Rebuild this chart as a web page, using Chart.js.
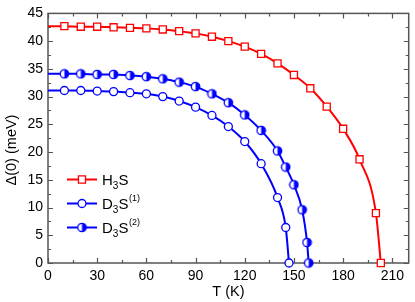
<!DOCTYPE html>
<html>
<head>
<meta charset="utf-8">
<script src="https://cdn.jsdelivr.net/npm/chart.js@4"></script>
<style>
html,body{margin:0;padding:0;background:#fff;}
#wrap{width:415px;height:302px;position:relative;}
</style>
</head>
<body>
<div id="wrap"><canvas id="c" width="415" height="302"></canvas></div>
<script>
// ---- data ----
const T_H3S = [0,10,20,30,40,50,60,70,80,90,100,110,120,130,140,150,160,170,180,190,200,203];
const GAP_H3S = [42.7,42.7,42.6,42.6,42.5,42.4,42.3,42.1,41.8,41.4,40.8,40.0,39.0,37.7,36.0,33.9,31.5,28.2,24.2,18.7,9.0,0];
const T_D3S_1 = [0,10,20,30,40,50,60,70,80,90,100,110,120,130,140,145,147];
const GAP_D3S_1 = [31.1,31.1,31.1,31.0,30.9,30.7,30.5,30.0,29.2,28.1,26.6,24.6,21.9,17.9,11.8,6.4,0];
const T_D3S_2 = [0,10,20,30,40,50,60,70,80,90,100,110,120,130,140,145,150,155,158,159];
const GAP_D3S_2 = [34.1,34.1,34.1,34.0,34.0,33.8,33.6,33.2,32.6,31.8,30.5,28.9,26.7,23.9,20.2,17.3,14.1,9.6,3.7,0];
const X_TICKS = [0,30,60,90,120,150,180,210];
const Y_TICKS = [0,5,10,15,20,25,30,35,40,45];
const SERIES_NAMES = [["H","3","S",""],["D","3","S","(1)"],["D","3","S","(2)"]];

const FONT = '"Liberation Sans", Arial, sans-serif';
const RED = '#ff0000', BLUE = '#0000ff';

function pts(xs, ys){ return xs.map((x,i)=>({x:x, y:ys[i]})); }

// half-filled circle marker (right half filled)
function halfCircle(color){
  const c = document.createElement('canvas');
  c.width = 11; c.height = 11;
  const g = c.getContext('2d');
  g.beginPath(); g.arc(5.5,5.5,4.2,0,Math.PI*2); g.fillStyle='#fff'; g.fill();
  g.beginPath(); g.moveTo(5.5,1.3); g.arc(5.5,5.5,4.2,-Math.PI/2,Math.PI/2); g.closePath();
  g.fillStyle=color; g.fill();
  g.beginPath(); g.arc(5.5,5.5,4.2,0,Math.PI*2); g.lineWidth=1.3; g.strokeStyle=color; g.stroke();
  return c;
}
const HALF = halfCircle(BLUE);

function radii(n, r){ return Array.from({length:n},(_,i)=> i===0 ? 0 : r); }

const frame = {
  id:'frame',
  beforeDatasetsDraw(chart){
    const {ctx, chartArea:a, scales:{x, y}} = chart;
    ctx.save();
    ctx.strokeStyle = '#555';
    ctx.lineWidth = 1.5;
    ctx.strokeRect(a.left, a.top, a.right-a.left, a.bottom-a.top);
    ctx.lineWidth = 1.2;
    ctx.beginPath();
    for (let v=0; v<=220; v+=15){
      const px = Math.round(x.getPixelForValue(v))+0.5;
      const L = (v%30===0)?5:3;
      ctx.moveTo(px,a.bottom); ctx.lineTo(px,a.bottom-L);
      ctx.moveTo(px,a.top); ctx.lineTo(px,a.top+L);
    }
    for (let v=0; v<=45; v+=2.5){
      const py = Math.round(y.getPixelForValue(v))+0.5;
      const L = (v%5===0)?5:3;
      ctx.moveTo(a.left,py); ctx.lineTo(a.left+L,py);
      ctx.moveTo(a.right,py); ctx.lineTo(a.right-L,py);
    }
    ctx.stroke();
    ctx.restore();
  },
  afterDraw(chart){
    const {ctx, chartArea:a} = chart;
    ctx.save();
    ctx.fillStyle = '#000';
    // axis titles
    ctx.font = '14.5px ' + FONT;
    ctx.textAlign = 'center'; ctx.textBaseline = 'middle';
    ctx.fillText('T (K)', (a.left+a.right)/2, 292);
    ctx.translate(12, 150); ctx.rotate(-Math.PI/2);
    ctx.fillText('\u0394(0) (meV)', 0, 0);
    ctx.restore();
    // legend
    chart.data.datasets.forEach((ds, i) => {
      const yy = 179.5 + 24*i;
      ctx.save();
      ctx.strokeStyle = ds.borderColor; ctx.lineWidth = 2;
      ctx.beginPath(); ctx.moveTo(67, yy); ctx.lineTo(97, yy); ctx.stroke();
      ctx.fillStyle = ds.pointBackgroundColor; ctx.strokeStyle = ds.borderColor;
      ctx.lineWidth = ds.pointBorderWidth;
      Chart.helpers.drawPoint(ctx, {pointStyle: ds.pointStyle, radius: ds.legendRadius, borderWidth: ds.pointBorderWidth, rotation:0}, 82, yy);
      const [a1, sub, b1, sup] = SERIES_NAMES[i];
      ctx.fillStyle = '#000'; ctx.textAlign = 'left'; ctx.textBaseline = 'alphabetic';
      let xx = 102;
      const base = yy + 5.5;
      ctx.font = '15px ' + FONT; ctx.fillText(a1, xx, base); xx += ctx.measureText(a1).width;
      ctx.font = '10px ' + FONT; ctx.fillText(sub, xx, base + 4); xx += ctx.measureText(sub).width;
      ctx.font = '15px ' + FONT; ctx.fillText(b1, xx, base); xx += ctx.measureText(b1).width + 0.5;
      if (sup){ ctx.font = '9px ' + FONT; ctx.fillText(sup, xx, base - 8); }
      ctx.restore();
    });
  }
};

new Chart(document.getElementById('c'), {
  type: 'line',
  data: {
    datasets: [
      { label:'H3S', data: pts(T_H3S, GAP_H3S), borderColor: RED, borderWidth: 2,
        pointStyle:'rect', pointRadius: radii(T_H3S.length, 5), legendRadius:5, pointBackgroundColor:'#fff',
        pointBorderColor: RED, pointBorderWidth: 1.3, cubicInterpolationMode:'monotone', clip:false },
      { label:'D3S(1)', data: pts(T_D3S_1, GAP_D3S_1), borderColor: BLUE, borderWidth: 2,
        pointStyle:'circle', pointRadius: radii(T_D3S_1.length, 4), legendRadius:4, pointBackgroundColor:'#fff',
        pointBorderColor: BLUE, pointBorderWidth: 1.3, cubicInterpolationMode:'monotone', clip:false },
      { label:'D3S(2)', data: pts(T_D3S_2, GAP_D3S_2), borderColor: BLUE, borderWidth: 2,
        pointStyle: HALF, pointRadius: radii(T_D3S_2.length, 4), legendRadius:4, pointBackgroundColor:'#fff',
        pointBorderColor: BLUE, pointBorderWidth: 1.3, cubicInterpolationMode:'monotone', clip:false }
    ]
  },
  options: {
    responsive: false,
    animation: false,
    events: [],
    layout: { padding: { top: 7, right: 3, left: 0, bottom: 0 } },
    plugins: { legend: { display:false }, tooltip: { enabled:false } },
    scales: {
      x: {
        type:'linear', min:0, max:220,
        grid:{ display:false, drawTicks:false }, border:{ display:false },
        afterBuildTicks(s){ s.ticks = X_TICKS.map(v=>({value:v})); },
        afterFit(s){ s.height = 39; },
        ticks:{ padding:5, color:'#000', font:{ family: FONT, size:14 }, maxRotation:0, autoSkip:false }
      },
      y: {
        type:'linear', min:0, max:45,
        grid:{ display:false, drawTicks:false }, border:{ display:false },
        afterBuildTicks(s){ s.ticks = Y_TICKS.map(v=>({value:v})); },
        afterFit(s){ s.width = 48; },
        ticks:{ padding:5, color:'#000', font:{ family: FONT, size:14 }, autoSkip:false }
      }
    }
  },
  plugins: [frame]
});
</script>
</body>
</html>
